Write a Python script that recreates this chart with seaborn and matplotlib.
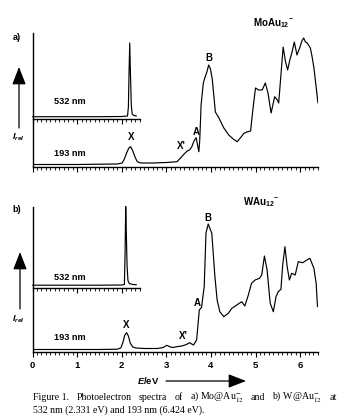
import matplotlib
matplotlib.use("Agg")
import matplotlib.pyplot as plt
from matplotlib.patches import FancyArrowPatch
from matplotlib.ticker import MultipleLocator, NullFormatter
import seaborn as sns

# ---------------- data (arb. intensity units) ----------------
a193_E = [0.0, 0.5, 1.0, 1.5, 1.9, 2.01, 2.06, 2.11, 2.16, 2.20, 2.24, 2.29, 2.34, 2.38, 2.45,
          2.7, 3.0, 3.15, 3.24, 3.32, 3.40, 3.47, 3.52, 3.57, 3.62, 3.67, 3.70, 3.73, 3.75,
          3.78, 3.83, 3.87, 3.91, 3.95, 3.99, 4.03, 4.10, 4.18, 4.29, 4.40, 4.50, 4.59, 4.66,
          4.74, 4.81, 4.89, 4.94, 5.00, 5.07, 5.15, 5.22, 5.28, 5.35, 5.43, 5.49, 5.52, 5.57,
          5.62, 5.67, 5.72, 5.77, 5.82, 5.87, 5.93, 5.99, 6.04, 6.08, 6.12, 6.16, 6.23, 6.27,
          6.31, 6.36, 6.40]
a193_I = [0.5, 0.5, 0.5, 0.8, 1.0, 2, 6, 12, 17, 18.3, 15, 9, 4, 2.5, 2,
          2, 2.5, 3, 3.3, 7, 11, 14, 15, 18, 24, 27.3, 20, 13.3, 25,
          60, 82, 88, 93, 100, 96, 86, 53, 47, 37, 30, 26, 23.3, 27,
          31.7, 33, 34, 55, 77, 75, 75, 82, 72, 52, 68.3, 65, 62, 90,
          118, 104, 95, 105, 113, 123, 110, 117, 124, 127, 123, 122, 117, 108,
          97, 78, 62]

a532_E = [0.0, 0.5, 1.0, 1.5, 2.0, 2.13, 2.15, 2.165, 2.18, 2.195, 2.215, 2.235, 2.27, 2.33]
a532_I = [0.3, 0.3, 0.3, 0.3, 0.5, 1.0, 10, 45, 74, 45, 12, 3, 1.5, 1.0]

b193_E = [0.0, 0.5, 1.0, 1.5, 1.9, 1.98, 2.03, 2.07, 2.11, 2.15, 2.19, 2.25, 2.32, 2.5, 2.8,
          2.93, 3.01, 3.09, 3.15, 3.23, 3.35, 3.45, 3.52, 3.57, 3.61, 3.68, 3.74, 3.79, 3.85,
          3.89, 3.94, 4.02, 4.09, 4.14, 4.20, 4.29, 4.39, 4.47, 4.58, 4.69, 4.76, 4.84, 4.91,
          4.99, 5.09, 5.14, 5.20, 5.26, 5.33, 5.40, 5.46, 5.51, 5.57, 5.61, 5.66, 5.71, 5.76,
          5.81, 5.89, 5.96, 6.06, 6.15, 6.22, 6.31, 6.36, 6.39]
b193_I = [0.5, 0.5, 0.5, 0.5, 0.8, 2, 8, 15, 17.3, 14, 7, 3, 2, 1.5, 1.5,
          2.5, 4.7, 3, 2.5, 3.3, 4, 5.5, 7.3, 6, 5, 10, 40, 42.7, 63.3,
          117, 126, 116.7, 73.3, 50, 38.3, 33.3, 36.7, 41.7, 45, 48.3, 44, 55, 66.7,
          70, 71.7, 75, 94, 80, 46.7, 38.3, 53.3, 58.3, 60.7, 85, 103.3, 83.3, 70,
          76.7, 75, 88.3, 87.3, 90, 91.7, 81.7, 66.7, 43.3]

b532_E = [0.0, 0.5, 1.0, 1.5, 2.0, 2.06, 2.075, 2.09, 2.105, 2.12, 2.14, 2.17, 2.25, 2.33]
b532_I = [0.3, 0.3, 0.3, 0.3, 0.5, 1.0, 30, 79, 50, 20, 5, 2, 1.0, 0.8]

tick_values = [0, 1, 2, 3, 4, 5, 6]
tick_labels = ["0", "1", "2", "3", "4", "5", "6"]

caption_line1 = ["Figure 1.", "Photoelectron", "spectra", "of", r"a) Mo@Au$_{12}^{-}$",
                 "and", r"b) W@Au$_{12}^{-}$", "at"]
caption_line2 = "532 nm (2.331 eV) and 193 nm (6.424 eV)."

# ---------------- style ----------------
sns.set_style("white")
plt.rcParams["font.family"] = ["Liberation Sans", "DejaVu Sans"]
plt.rcParams["mathtext.fontset"] = "custom"
plt.rcParams["mathtext.rm"] = "Liberation Sans:bold"
plt.rcParams["mathtext.bf"] = "Liberation Sans:bold"
plt.rcParams["mathtext.it"] = "Liberation Sans:italic:bold"

W, H = 349, 420
fig = plt.figure(figsize=(W / 100, H / 100), dpi=100)
fig.patch.set_facecolor("white")


def add_ax(left, top, right, bottom):
    return fig.add_axes([left / W, 1 - bottom / H, (right - left) / W, (bottom - top) / H])


def P(x, y):
    return (x / W, 1 - y / H)


X0 = 32.5
SCALE = 44.6  # px per eV


def style_axis(ax, xmax, show_left, labels):
    ax.set_xlim(0, xmax)
    for s in ["top", "right"]:
        ax.spines[s].set_visible(False)
    ax.spines["left"].set_visible(show_left)
    for s in ["left", "bottom"]:
        ax.spines[s].set_linewidth(1.0)
        ax.spines[s].set_color("black")
    ax.set_yticks([])
    ax.set_xticks(tick_values if xmax > 3 else [0, 1, 2])
    ax.xaxis.set_minor_locator(MultipleLocator(0.1))
    ax.tick_params(axis="x", which="major", direction="out", length=3.4, width=0.8,
                   colors="black", pad=3.0, bottom=True)
    ax.tick_params(axis="x", which="minor", direction="out", length=2.0, width=0.6,
                   colors="black", bottom=True)
    if labels:
        ax.set_xticklabels(tick_labels, fontsize=6.8, fontweight="bold")
    else:
        ax.xaxis.set_major_formatter(NullFormatter())
    ax.set_xlabel("")
    ax.set_ylabel("")


def panel(top, bot193, bot532, d193, d532, labels):
    r193 = X0 + SCALE * 6.4
    r532 = X0 + SCALE * 2.42
    ax1 = add_ax(X0, top, r193, bot193)
    sns.lineplot(x=d193[0], y=d193[1], ax=ax1, color="black", lw=0.85, estimator=None)
    ax1.set_ylim(-2, bot193 - top - 2)
    style_axis(ax1, 6.4, True, labels)
    ax2 = add_ax(X0, top, r532, bot532)
    ax2.patch.set_visible(False)
    sns.lineplot(x=d532[0], y=d532[1], ax=ax2, color="black", lw=0.85, estimator=None)
    ax2.set_ylim(-2, bot532 - top - 2)
    for ln in ax2.lines:
        ln.set_clip_on(False)
    style_axis(ax2, 2.42, False, False)
    return ax1, ax2


panel(33, 167, 119, (a193_E, a193_I), (a532_E, a532_I), False)
panel(207, 352, 287.5, (b193_E, b193_I), (b532_E, b532_I), True)

bold = dict(fontweight="bold", color="black", ha="center", va="center")


def varrow(x, y0, y1, ms=12):
    fig.add_artist(FancyArrowPatch(P(x, y0), P(x, y1), transform=fig.transFigure,
                                   arrowstyle="-|>,head_length=0.9,head_width=0.35",
                                   mutation_scale=ms, lw=0.9, color="black",
                                   shrinkA=0, shrinkB=0))


# panel a annotations
fig.text(*P(17, 37), "a)", fontsize=6.5, **bold)
fig.text(*P(273, 23), r"MoAu$_{\mathbf{12}}{}^{\mathbf{-}}$", fontsize=7, **bold)
fig.text(*P(69.5, 102), "532 nm", fontsize=6.6, **bold)
fig.text(*P(69.5, 153), "193 nm", fontsize=6.6, **bold)
fig.text(*P(131, 137), "X", fontsize=7, **bold)
fig.text(*P(181, 146), "X'", fontsize=7, **bold)
fig.text(*P(196, 132), "A", fontsize=7, **bold)
fig.text(*P(208.5, 58), "B", fontsize=7, **bold)
fig.text(*P(18, 137), r"$I_{rel}$", fontsize=6.6, **bold)
varrow(19, 128, 67)

# panel b annotations
fig.text(*P(17, 210), "b)", fontsize=6.5, **bold)
fig.text(*P(261, 202), r"WAu$_{\mathbf{12}}{}^{\mathbf{-}}$", fontsize=7, **bold)
fig.text(*P(70, 277), "532 nm", fontsize=6.6, **bold)
fig.text(*P(70, 338), "193 nm", fontsize=6.6, **bold)
fig.text(*P(126, 325), "X", fontsize=7, **bold)
fig.text(*P(183, 336), "X'", fontsize=7, **bold)
fig.text(*P(197, 303), "A", fontsize=7, **bold)
fig.text(*P(208, 218), "B", fontsize=7, **bold)
fig.text(*P(18, 319), r"$I_{rel}$", fontsize=6.6, **bold)
varrow(20, 309, 252)

# x-axis label and arrow
fig.text(*P(148, 381), r"$E$/eV", fontsize=6.8, **bold)
fig.add_artist(FancyArrowPatch(P(166, 381), P(246, 381), transform=fig.transFigure,
                               arrowstyle="-|>,head_length=0.9,head_width=0.35",
                               mutation_scale=12, lw=0.9, color="black", shrinkA=0, shrinkB=0))

# caption (serif), first line justified between x=33 and x=337 px
cap = dict(fontsize=7.1, family=["Liberation Serif", "DejaVu Serif"], math_fontfamily="stix",
           va="center", ha="left", color="black")
renderer = fig.canvas.get_renderer()
words = [fig.text(*P(33, 397), s, **cap) for s in caption_line1]
widths = [t.get_window_extent(renderer).width for t in words]
gap = (337 - 33 - sum(widths)) / (len(words) - 1)
x = 33.0
for t, w in zip(words, widths):
    t.set_position(P(x, 397))
    x += w + gap
fig.text(*P(33, 410), caption_line2, **cap)

fig.savefig("out.png", dpi=100, facecolor="white")
